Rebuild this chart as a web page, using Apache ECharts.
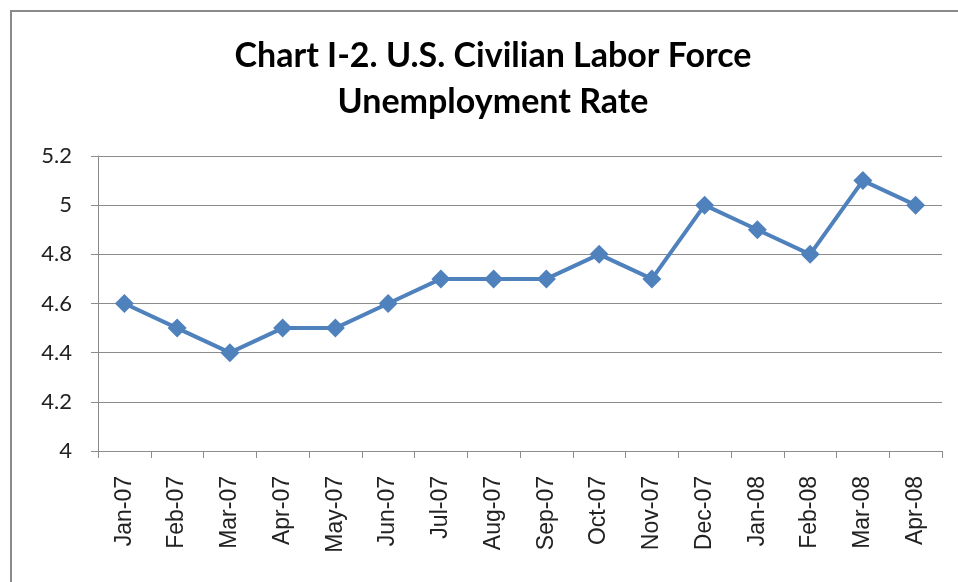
<!DOCTYPE html>
<html>
<head>
<meta charset="utf-8">
<script src="https://cdn.jsdelivr.net/npm/echarts@6/dist/echarts.min.js"></script>
<style>
  html, body { margin: 0; padding: 0; background: #fff; }
  #chart { width: 958px; height: 582px; }
</style>
</head>
<body>
<div id="chart"></div>
<script>
const months = ["Jan-07", "Feb-07", "Mar-07", "Apr-07", "May-07", "Jun-07", "Jul-07", "Aug-07",
  "Sep-07", "Oct-07", "Nov-07", "Dec-07", "Jan-08", "Feb-08", "Mar-08", "Apr-08"];
const unemploymentRate = [4.6, 4.5, 4.4, 4.5, 4.5, 4.6, 4.7, 4.7, 4.7, 4.8, 4.7, 5.0, 4.9, 4.8, 5.1, 5.0];
const yTicks = [4, 4.2, 4.4, 4.6, 4.8, 5, 5.2];

const chart = echarts.init(document.getElementById("chart"));

const option = {
  animation: false,
  backgroundColor: "#fff",
  title: {
    text: "Chart I-2. U.S. Civilian Labor Force\nUnemployment Rate",
    left: 488,
    top: 28,
    textAlign: "center",
    textStyle: {
      fontFamily: "Lato",
      fontWeight: "bold",
      fontSize: 34,
      lineHeight: 46,
      color: "#000",
    },
  },
  graphic: [
    {
      type: "rect",
      shape: { x: 11, y: 11, width: 960, height: 600 },
      style: { fill: "none", stroke: "#8a8a8a", lineWidth: 2 },
      silent: true,
    },
  ],
  grid: { left: 98, right: 16, top: 156, bottom: 131 },
  xAxis: {
    type: "category",
    data: months,
    boundaryGap: true,
    axisLine: { lineStyle: { color: "#8c8c8c", width: 1 } },
    axisTick: { show: true, length: 7, lineStyle: { color: "#8c8c8c" } },
    axisLabel: {
      rotate: 90,
      margin: 25,
      fontFamily: "Liberation Sans",
      fontSize: 23,
      color: "#222",
    },
  },
  yAxis: {
    type: "value",
    min: yTicks[0],
    max: yTicks[yTicks.length - 1],
    interval: 0.2,
    axisLine: { show: true, lineStyle: { color: "#8c8c8c", width: 1 } },
    axisTick: { show: true, length: 7, lineStyle: { color: "#8c8c8c" } },
    splitLine: { show: true, lineStyle: { color: "#8c8c8c", width: 1 } },
    axisLabel: {
      margin: 26,
      fontFamily: "Lato",
      fontSize: 22,
      color: "#222",
      formatter: (v) => String(Math.round(v * 10) / 10),
    },
  },
  series: [
    {
      type: "line",
      data: unemploymentRate,
      symbol: "diamond",
      symbolSize: 19,
      itemStyle: { color: "#4F81BD" },
      lineStyle: { color: "#4F81BD", width: 4 },
    },
  ],
};

chart.setOption(option);
</script>
</body>
</html>
